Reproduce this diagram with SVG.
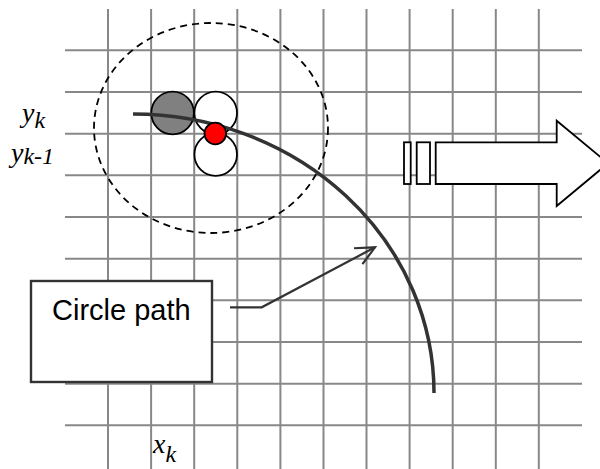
<svg xmlns="http://www.w3.org/2000/svg" width="600" height="469" viewBox="0 0 600 469">
  <style>
    .grid line { stroke: #888888; stroke-width: 2; }
    .ital { font-family: "Liberation Serif", "Times New Roman", serif; font-style: italic; fill: #000; }
    .lbl { font-family: "Liberation Sans", Arial, sans-serif; fill: #000; }
    .outl { stroke: #000; stroke-width: 1.8; fill: #fff; }
  </style>
  <defs>
    <marker id="openArrow" markerWidth="22" markerHeight="20" refX="20" refY="10" orient="auto" markerUnits="userSpaceOnUse" viewBox="0 0 22 20">
      <path d="M1,1 L20,10 L1,19" fill="none" stroke="#333" stroke-width="2.2"/>
    </marker>
  </defs>
  <rect width="600" height="469" fill="#fff"/>
  <g id="grid" class="grid">
    <line x1="108" y1="9" x2="108" y2="469"/>
    <line x1="151.1" y1="9" x2="151.1" y2="469"/>
    <line x1="194.2" y1="9" x2="194.2" y2="469"/>
    <line x1="237.3" y1="9" x2="237.3" y2="469"/>
    <line x1="280.4" y1="9" x2="280.4" y2="469"/>
    <line x1="323.5" y1="9" x2="323.5" y2="469"/>
    <line x1="366.5" y1="9" x2="366.5" y2="469"/>
    <line x1="409.6" y1="9" x2="409.6" y2="469"/>
    <line x1="452.7" y1="9" x2="452.7" y2="469"/>
    <line x1="495.8" y1="9" x2="495.8" y2="469"/>
    <line x1="538.8" y1="9" x2="538.8" y2="469"/>
    <line x1="65" y1="50.3" x2="582" y2="50.3"/>
    <line x1="65" y1="92" x2="582" y2="92"/>
    <line x1="65" y1="133.7" x2="582" y2="133.7"/>
    <line x1="65" y1="175.3" x2="582" y2="175.3"/>
    <line x1="65" y1="217" x2="582" y2="217"/>
    <line x1="65" y1="258.7" x2="582" y2="258.7"/>
    <line x1="65" y1="300.3" x2="582" y2="300.3"/>
    <line x1="65" y1="342" x2="582" y2="342"/>
    <line x1="65" y1="383.7" x2="582" y2="383.7"/>
    <line x1="65" y1="425.3" x2="582" y2="425.3"/>
  </g>
  <g id="neighborhood">
    <ellipse cx="211" cy="128" rx="117" ry="105" fill="none" stroke="#000" stroke-width="1.8" stroke-dasharray="7,5"/>
  </g>
  <g id="pixel-gray">
    <circle cx="172.6" cy="113" r="21.3" fill="#808080" stroke="#000" stroke-width="1.8"/>
  </g>
  <g id="pixel-top">
    <circle cx="215.7" cy="113" r="21.3" fill="#fff" stroke="#000" stroke-width="1.8"/>
  </g>
  <g id="pixel-bottom">
    <circle cx="215.7" cy="154.5" r="21.3" fill="#fff" stroke="#000" stroke-width="1.8"/>
  </g>
  <g id="circle-path">
    <path d="M133,114 A301,279 0 0 1 434,393" fill="none" stroke="#333" stroke-width="3.5"/>
  </g>
  <g id="midpoint">
    <circle cx="215.3" cy="133.5" r="10.8" fill="#ff0000" stroke="#000" stroke-width="1.8"/>
  </g>
  <g id="direction-arrow">
    <rect class="outl" x="404" y="142.3" width="6.7" height="41.7"/>
    <rect class="outl" x="416.7" y="142.3" width="13.3" height="41.7"/>
    <path class="outl" d="M435.7,142.3 L556.7,142.3 L556.7,120.7 L608,163.3 L556.7,206 L556.7,184 L435.7,184 Z"/>
  </g>
  <g id="label-box">
    <rect x="31" y="281" width="181" height="101" fill="#fff" stroke="#333" stroke-width="2.4"/>
    <text class="lbl" x="52" y="320" font-size="29">Circle path</text>
  </g>
  <g id="connectors">
    <path d="M230,307.3 L261.7,307.3 L375,247.3" fill="none" stroke="#333" stroke-width="2.2" marker-end="url(#openArrow)"/>
  </g>
  <g id="axis-labels">
    <text class="ital" x="22" y="122" font-size="28">y<tspan font-size="24" dy="6">k</tspan></text>
    <text class="ital" x="11" y="162" font-size="28">y<tspan font-size="24" dy="2">k-1</tspan></text>
    <text class="ital" x="153" y="453" font-size="28">x<tspan font-size="24" dy="9">k</tspan></text>
  </g>
</svg>
